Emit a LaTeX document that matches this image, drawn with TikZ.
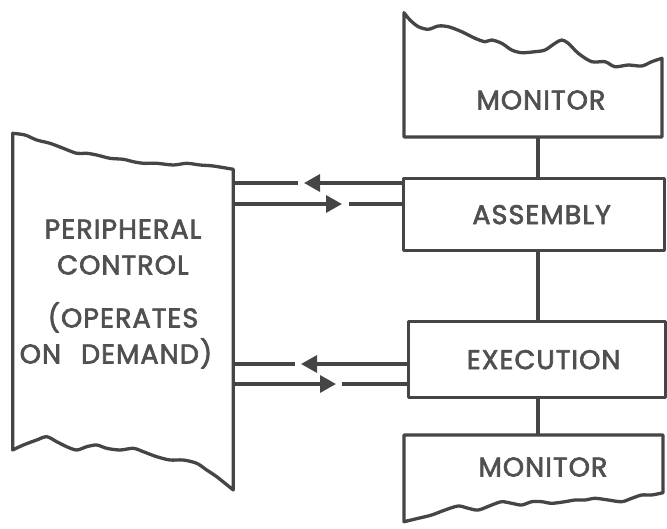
\documentclass[tikz,border=0pt]{standalone}
\usepackage{fontspec}
\setmainfont{Poppins}
\newfontfamily\boxfont{Poppins}[FakeBold=2.5, LetterSpace=4]
\usetikzlibrary{arrows.meta}
\definecolor{ink}{HTML}{454545}
\definecolor{print}{HTML}{505050}
\begin{document}
\begin{tikzpicture}[x=1pt,y=-1pt,
  outline/.style={draw=ink, line width=3.3pt, line join=round},
  caption/.style={text=print, font=\boxfont\fontsize{27}{36}\selectfont, inner sep=0pt},
  blockbox/.style={outline, rectangle, inner sep=0pt, anchor=north west,
                   text=print, font=\boxfont\fontsize{27}{30}\selectfont},
  area/.style={rectangle, inner sep=0pt, anchor=north west},
  flow/.style={draw=ink, line width=3.3pt},
  head/.style={-{Triangle[length=16pt,width=17pt]}}
]
\useasboundingbox (0,0) rectangle (667,528);

% ---------- peripheral control (torn top and bottom) ----------
\draw[outline]
  plot[smooth, tension=0.5] coordinates {
    (12.7,133.3) (25,135) (36.7,140) (50,143.3) (63.3,148.3) (76.7,153.3)
    (86.7,153.3) (96.7,155) (110,158.3) (123.3,159.3) (133.3,161.7)
    (143.3,163.3) (156.7,163.3) (173.3,165) (186.7,163.3) (200,165)
    (213.3,166) (233.3,169.3)}
  -- (233.3,490)
  -- plot[smooth, tension=0.5] coordinates {
    (233.3,490) (216.7,476.7) (206.7,470) (196.7,463.3) (183.3,460)
    (170,460) (156.7,456.7) (143.3,451.7) (133.3,448.3) (120,450)
    (106.7,448.3) (96.7,445) (86.7,446.7) (76.7,450) (66.7,446.7)
    (56.7,441.7) (46.7,436.7) (36.7,440) (23.3,445) (12.7,450)}
  -- cycle;
\node[area, minimum width=220.6pt, minimum height=280pt] (pbox) at (12.7,170) {};
\node[caption, align=center] (periph) at (123,294)
  {PERIPHERAL\\CONTROL\\[17pt](OPERATES\hspace*{2pt}\\ON\hspace{20pt}DEMAND)\hspace*{14pt}};

% ---------- upper monitor (torn top) ----------
\draw[outline]
  plot[smooth, tension=0.5] coordinates {
    (404,12.7) (410,20) (418.3,26.7) (428.3,29.3) (438.3,26) (448.3,26.7)
    (461.7,31.7) (475,38.3) (485,41.7) (491.7,40) (501.7,43.3) (511.7,50)
    (521.7,52.7) (535,51.7) (545,50) (555,43.3) (561.7,40) (568.3,43.3)
    (578.3,53.3) (591.7,61.7) (605,61.7) (615,66.7) (628.3,65) (641.7,66)
    (651.7,61.7) (662,58.3)}
  -- (662,137) -- (404,137) -- cycle;
\node[area, minimum width=258pt, minimum height=70pt] (mon1) at (404,67) {};
\node[caption] at (541,100) {MONITOR};

% ---------- assembly and execution ----------
\node[blockbox, minimum width=261pt, minimum height=72pt] (asm) at (402,177)
  {\hspace*{15pt}ASSEMBLY};
\node[blockbox, minimum width=257pt, minimum height=76pt] (exec) at (407,320)
  {\hspace*{13pt}\raisebox{-5pt}{EXECUTION}};

% ---------- lower monitor (torn bottom) ----------
\draw[outline]
  (404,435) -- (663,435) -- (663,492.7)
  -- plot[smooth, tension=0.5] coordinates {
    (663,492.7) (651.7,495) (641.7,495) (631.7,498.3) (621.7,501.7)
    (608.3,500) (595,498.3) (585,500) (575,500) (565,501.7) (551.7,503.3)
    (541.7,501.7) (531.7,501.7) (521.7,505) (511.7,503.3) (501.7,501.7)
    (491.7,505) (478.3,510) (468.3,508.3) (458.3,506) (445,510)
    (431.7,515) (418.3,518.3) (404,521.7)}
  -- cycle;
\node[area, minimum width=259pt, minimum height=58pt] (mon2) at (404,435) {};
\node[caption] at (543,467) {MONITOR};

% ---------- vertical links ----------
\coordinate (link) at (538,0);
\draw[outline] (mon1.south -| link) -- (asm.north -| link);
\draw[outline] (asm.south -| link) -- (exec.north -| link);
\draw[outline] (exec.south -| link) -- (mon2.north -| link);

% ---------- data paths between peripheral control and the processor ----------
\coordinate (ta) at (304,183);
\coordinate (ga) at (298,183);
\draw[flow, head] (asm.west |- ta) -- (ta);
\draw[flow] (pbox.east |- ga) -- (ga);

\coordinate (tb) at (342,204);
\coordinate (gb) at (349,204);
\draw[flow, head] (pbox.east |- tb) -- (tb);
\draw[flow] (gb) -- (asm.west |- gb);

\coordinate (tc) at (301,364);
\coordinate (gc) at (295,364);
\draw[flow, head] (exec.west |- tc) -- (tc);
\draw[flow] (pbox.east |- gc) -- (gc);

\coordinate (td) at (336,384);
\coordinate (gd) at (342,384);
\draw[flow, head] (pbox.east |- td) -- (td);
\draw[flow] (gd) -- (exec.west |- gd);
\end{tikzpicture}
\end{document}
